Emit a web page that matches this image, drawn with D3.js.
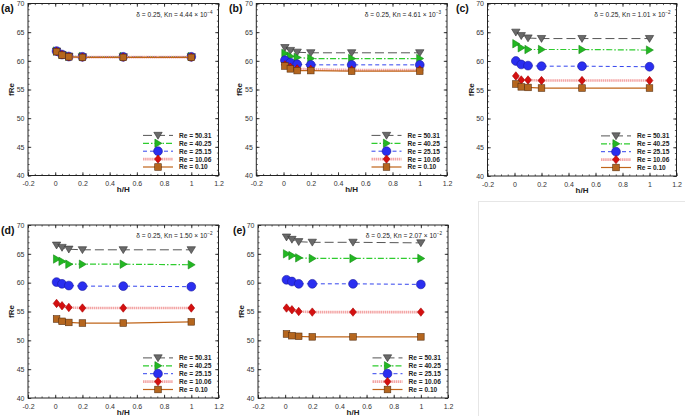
<!DOCTYPE html>
<html><head><meta charset="utf-8">
<script src="https://cdn.jsdelivr.net/npm/d3@7"></script>
<style>
html,body{margin:0;padding:0;background:#fff;}
svg{display:block;font-family:"Liberation Sans",Arial,sans-serif;}
</style></head>
<body>
<svg id="c" width="685" height="416"></svg>
<script>
// ---- data ----
const hH = [0.01, 0.05, 0.1, 0.2, 0.5, 1];
const seriesNames = ["Re = 50.31", "Re = 40.25", "Re = 25.15", "Re = 10.06", "Re = 0.10"];
const panelLabels = ["(a)", "(b)", "(c)", "(d)", "(e)"];
const knMantissa = ["4.44", "4.61", "1.01", "1.50", "2.07"];
const knExponent = ["-4", "-3", "-2", "-2", "-2"];
const xTicks = [-0.2, 0, 0.2, 0.4, 0.6, 0.8, 1, 1.2];
const xTickLabels = ["-0.2", "0", "0.2", "0.4", "0.6", "0.8", "1", "1.2"];
const yTicks = [40, 45, 50, 55, 60, 65, 70];

const fReA = [
  [61.7, 61.1, 60.8, 60.7, 60.7, 60.7],
  [61.7, 61.1, 60.8, 60.75, 60.75, 60.75],
  [61.7, 61.1, 60.75, 60.7, 60.7, 60.7],
  [61.65, 61.05, 60.7, 60.65, 60.65, 60.65],
  [61.6, 61.0, 60.7, 60.6, 60.6, 60.6]
];
const fReB = [
  [62.3, 61.8, 61.5, 61.4, 61.4, 61.4],
  [61.3, 60.8, 60.6, 60.4, 60.4, 60.4],
  [60.1, 59.7, 59.4, 59.3, 59.3, 59.3],
  [59.3, 58.9, 58.6, 58.5, 58.4, 58.4],
  [59.1, 58.6, 58.3, 58.3, 58.2, 58.2]
];
const fReC = [
  [65.0, 64.4, 64.0, 63.9, 63.9, 63.9],
  [63.0, 62.3, 62.0, 62.0, 62.0, 61.9],
  [60.0, 59.4, 59.2, 59.1, 59.1, 59.0],
  [57.4, 56.7, 56.7, 56.6, 56.6, 56.6],
  [56.0, 55.5, 55.4, 55.3, 55.3, 55.3]
];
const fReD = [
  [66.5, 66.1, 65.8, 65.7, 65.7, 65.7],
  [64.1, 63.7, 63.2, 63.2, 63.2, 63.1],
  [60.1, 59.8, 59.5, 59.4, 59.4, 59.3],
  [56.4, 56.0, 55.7, 55.6, 55.6, 55.6],
  [53.7, 53.3, 53.1, 53.0, 53.0, 53.2]
];
const fReE = [
  [67.9, 67.5, 67.1, 67.0, 67.0, 66.9],
  [65.0, 64.7, 64.3, 64.2, 64.2, 64.2],
  [60.5, 60.2, 59.8, 59.8, 59.8, 59.7],
  [55.6, 55.3, 55.0, 54.9, 54.9, 54.9],
  [51.1, 50.8, 50.7, 50.6, 50.6, 50.6]
];
const panelData = [fReA, fReB, fReC, fReD, fReE];

// ---- layout / styles ----
const boxes = [
  {l: 28, r: 218.5, t: 3.5, b: 175.5, lx: 1},
  {l: 256.3, r: 447, t: 3.5, b: 175.5, lx: 229},
  {l: 487.5, r: 676.5, t: 3.5, b: 176, lx: 456},
  {l: 28, r: 218.5, t: 225, b: 398, lx: 1},
  {l: 258, r: 448, t: 225, b: 398, lx: 233}
];
const styles = [
  {stroke: "#555", width: 1, dash: "9,4", fill: "#6a6a6a", mstroke: "#333", shape: "down"},
  {stroke: "#2ecc2e", width: 1.2, dash: "6,2,1.5,2", fill: "#22b822", mstroke: "#188a18", shape: "right"},
  {stroke: "#3344ee", width: 1, dash: "4,3", fill: "#2a2ef0", mstroke: "#1a1aa0", shape: "circle"},
  {stroke: "#f3a5a5", width: 2.6, dash: "1.5,0.6", fill: "#d41010", mstroke: "#a00", shape: "diamond"},
  {stroke: "#c0651a", width: 1.2, dash: null, fill: "#b5661e", mstroke: "#5a3010", shape: "square"}
];

const svg = d3.select("#c");

// empty panel box (f)
svg.append("rect").attr("x", 478.5).attr("y", 201.5).attr("width", 220).attr("height", 230)
  .attr("fill", "none").attr("stroke", "#e6e6e6").attr("stroke-width", 1);

function marker(g, shape, x, y, st) {
  let el;
  if (shape === "circle") {
    el = g.append("circle").attr("cx", x).attr("cy", y).attr("r", 4.4);
  } else if (shape === "square") {
    el = g.append("rect").attr("x", x - 3.3).attr("y", y - 3.3).attr("width", 6.6).attr("height", 6.6);
  } else if (shape === "diamond") {
    el = g.append("path").attr("d", `M${x},${y-4.2}L${x+3.4},${y}L${x},${y+4.2}L${x-3.4},${y}Z`);
  } else if (shape === "down") {
    el = g.append("path").attr("d", `M${x-4.2},${y-3.1}L${x+4.2},${y-3.1}L${x},${y+3.8}Z`);
  } else {
    el = g.append("path").attr("d", `M${x-3.1},${y-4.2}L${x+3.9},${y}L${x-3.1},${y+4.2}Z`);
  }
  el.attr("fill", st.fill).attr("stroke", st.mstroke).attr("stroke-width", 0.6);
}

panelData.forEach((data, p) => {
  const bx = boxes[p];
  const x = d3.scaleLinear().domain([-0.2, 1.2]).range([bx.l, bx.r]);
  const y = d3.scaleLinear().domain([40, 70]).range([bx.b, bx.t]);
  const g = svg.append("g");

  const xMinor = d3.range(-0.2, 1.2001, 0.05).map(v => +v.toFixed(2));
  const yMinor = d3.range(40, 70.001, 1);
  const axes = [
    [d3.axisBottom(x), `translate(0,${bx.b})`, xTicks, xMinor, true],
    [d3.axisTop(x), `translate(0,${bx.t})`, xTicks, xMinor, false],
    [d3.axisLeft(y), `translate(${bx.l},0)`, yTicks, yMinor, true],
    [d3.axisRight(y), `translate(${bx.r},0)`, yTicks, yMinor, false]
  ];
  axes.forEach(([ax, tr, major, minor, labels], i) => {
    const gm = g.append("g").attr("transform", tr)
      .call(ax.tickValues(minor).tickSize(-1.6).tickFormat(""));
    gm.select(".domain").remove();
    gm.selectAll("line").attr("stroke", "#222").attr("stroke-width", 0.7);
    const a2 = (i === 0 ? d3.axisBottom(x) : i === 1 ? d3.axisTop(x) : i === 2 ? d3.axisLeft(y) : d3.axisRight(y));
    const gM = g.append("g").attr("transform", tr)
      .call(a2.tickValues(major).tickSize(-3.2).tickPadding(i < 2 ? 6 : 3.5)
        .tickFormat(labels ? (i === 0 ? (d, k) => xTickLabels[k] : d3.format("d")) : ""));
    gM.select(".domain").remove();
    gM.selectAll("line").attr("stroke", "#222").attr("stroke-width", 0.9);
    gM.selectAll("text").attr("font-size", 7).attr("fill", "#333")
      .attr("font-family", "Liberation Sans, Arial, sans-serif");
  });
  g.append("rect").attr("x", bx.l).attr("y", bx.t).attr("width", bx.r - bx.l).attr("height", bx.b - bx.t)
    .attr("fill", "none").attr("stroke", "#222").attr("stroke-width", 1);

  // axis titles
  g.append("text").attr("x", (bx.l + bx.r) / 2).attr("y", bx.b + 16.5).attr("text-anchor", "middle")
    .attr("font-size", 8).attr("font-weight", "bold").attr("fill", "#222").text("h/H");
  g.append("text").attr("transform", `translate(${bx.l - 14},${(bx.t + bx.b) / 2}) rotate(-90)`)
    .attr("text-anchor", "middle").attr("font-size", 8).attr("font-weight", "bold").attr("fill", "#222").text("fRe");

  // panel label
  g.append("text").attr("x", bx.lx).attr("y", bx.t + 8.5).attr("font-size", 10.5).attr("font-weight", "bold")
    .attr("fill", "#111").text(panelLabels[p]);

  // annotation
  const ann = g.append("text").attr("x", bx.r - 6).attr("y", bx.t + 13).attr("text-anchor", "end")
    .attr("font-size", 6.6).attr("fill", "#222");
  ann.append("tspan").text(`δ = 0.25,  Kn = ${knMantissa[p]} × 10`);
  ann.append("tspan").attr("dy", -2.8).attr("font-size", 4.6).text(knExponent[p].replace("-", "−"));

  // series
  const line = d3.line().x((d, i) => x(hH[i])).y(d => y(d));
  data.forEach((vals, s) => {
    const st = styles[s];
    g.append("path").attr("d", line(vals)).attr("fill", "none").attr("stroke", st.stroke)
      .attr("stroke-width", st.width).attr("stroke-dasharray", st.dash);
    vals.forEach((v, i) => marker(g, st.shape, x(hH[i]), y(v), st));
  });

  // legend
  seriesNames.forEach((name, s) => {
    const st = styles[s];
    const ly = bx.b - 8.5 - (4 - s) * 7.9;
    const x0 = bx.r - 75.5, x1 = bx.r - 45.5;
    g.append("line").attr("x1", x0).attr("x2", x1).attr("y1", ly).attr("y2", ly)
      .attr("stroke", st.stroke).attr("stroke-width", st.width).attr("stroke-dasharray", st.dash);
    marker(g, st.shape, (x0 + x1) / 2, ly, st);
    g.append("text").attr("x", bx.r - 39.5).attr("y", ly + 2.4).attr("font-size", 6.6)
      .attr("font-weight", "bold").attr("fill", "#222").text(name);
  });
});
</script>
</body></html>
